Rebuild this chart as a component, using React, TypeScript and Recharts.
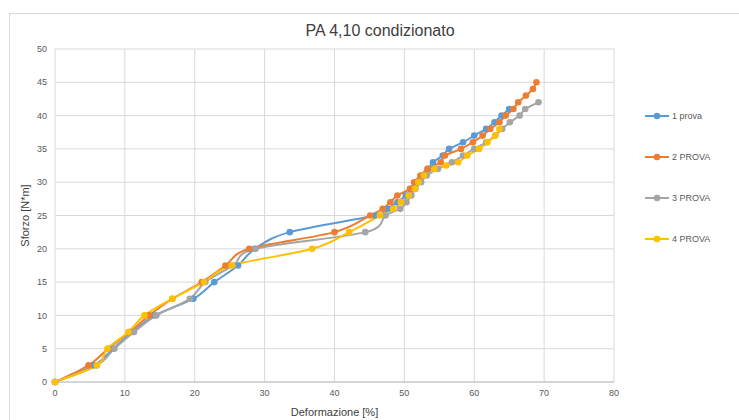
import React from 'react';
import { LineChart, Line, XAxis, YAxis, CartesianGrid } from 'recharts';

// tick labels
const xTicks = [0, 10, 20, 30, 40, 50, 60, 70, 80];
const yTicks = [0, 5, 10, 15, 20, 25, 30, 35, 40, 45, 50];

// 1 prova
const prova1X = [0, 5.6, 8.3, 11.1, 14.3, 19.8, 22.8, 26.2, 28.6, 33.6, 45.8, 47.6, 49, 50.2, 51, 51.7, 52.7, 53.4, 54.1, 55.5, 56.4, 58.4, 60, 61.7, 62.9, 63.9, 65];
const prova1Y = [0, 2.5, 5, 7.5, 10, 12.5, 15, 17.5, 20, 22.5, 25, 26, 27, 28, 29, 30, 31, 32, 33, 34, 35, 36, 37, 38, 39, 40, 41];

// 2 PROVA
const prova2X = [0, 4.8, 7.6, 10.7, 13.5, 16.8, 21, 24.4, 27.8, 40, 45.1, 46.9, 48, 49, 50.8, 51.4, 52.3, 53.3, 55.2, 55.8, 58.1, 59.8, 61.2, 62.3, 63.6, 64.5, 65.6, 66.3, 67.4, 68.4, 68.9];
const prova2Y = [0, 2.5, 5, 7.5, 10, 12.5, 15, 17.5, 20, 22.5, 25, 26, 27, 28, 29, 30, 31, 32, 33, 34, 35, 36, 37, 38, 39, 40, 41, 42, 43, 44, 45];

// 3 PROVA
const prova3X = [0, 6, 8.5, 11.3, 14.5, 19.3, 21.5, 25.5, 28.7, 44.4, 47.3, 49.4, 50.3, 51, 51.6, 52.4, 53.2, 54.8, 56.8, 58.4, 60, 61.7, 63, 64, 65.1, 66.5, 67.3, 69.2];
const prova3Y = [0, 2.5, 5, 7.5, 10, 12.5, 15, 17.5, 20, 22.5, 25, 26, 27, 28, 29, 30, 31, 32, 33, 34, 35, 36, 37, 38, 39, 40, 41, 42];

// 4 PROVA
const prova4X = [0, 6, 7.5, 10.5, 12.8, 16.8, 21.3, 25.3, 36.8, 42.1, 46.5, 48.4, 49.5, 50.6, 51.5, 52, 52.8, 54.3, 56, 57.7, 59, 60.7, 61.9, 63, 63.6];
const prova4Y = [0, 2.5, 5, 7.5, 10, 12.5, 15, 17.5, 20, 22.5, 25, 26, 27, 28, 29, 30, 31, 32, 32.5, 33, 34, 35, 36, 37, 38];

const toPoints = (xs: number[], ys: number[]) => xs.map((x, i) => ({ x, y: ys[i] }));

const series = [
  { name: '1 prova', color: '#5B9BD5', data: toPoints(prova1X, prova1Y) },
  { name: '2 PROVA', color: '#ED7D31', data: toPoints(prova2X, prova2Y) },
  { name: '3 PROVA', color: '#A5A5A5', data: toPoints(prova3X, prova3Y) },
  { name: '4 PROVA', color: '#FFC000', data: toPoints(prova4X, prova4Y) },
];

const font = '"Liberation Sans", Arial, sans-serif';

// Excel-like smoothed line (Catmull-Rom through the points)
function smoothCurve(context: any) {
  let pts: number[][] = [];
  return {
    areaStart() {},
    areaEnd() {},
    lineStart() { pts = []; },
    point(x: number, y: number) { pts.push([+x, +y]); },
    lineEnd() {
      if (!pts.length) return;
      context.moveTo(pts[0][0], pts[0][1]);
      const t = 1 / 6;
      for (let i = 0; i < pts.length - 1; i++) {
        const p0 = pts[i - 1] || pts[i];
        const p1 = pts[i];
        const p2 = pts[i + 1];
        const p3 = pts[i + 2] || p2;
        context.bezierCurveTo(
          p1[0] + (p2[0] - p0[0]) * t, p1[1] + (p2[1] - p0[1]) * t,
          p2[0] - (p3[0] - p1[0]) * t, p2[1] - (p3[1] - p1[1]) * t,
          p2[0], p2[1]
        );
      }
    },
  };
}

const LegendBox = () => (
  <div style={{ position: 'absolute', left: 645, top: 95, fontFamily: font, fontSize: 9, color: '#595959' }}>
    {series.map(s => (
      <div key={s.name} style={{ display: 'flex', alignItems: 'center', height: 41 }}>
        <svg width={24} height={10} style={{ marginRight: 3 }}>
          <line x1={0} y1={5} x2={24} y2={5} stroke={s.color} strokeWidth={2} />
          <circle cx={12} cy={5} r={3.3} fill={s.color} />
        </svg>
        <span>{s.name}</span>
      </div>
    ))}
  </div>
);

export default function App() {
  return (
    <div style={{ position: 'absolute', left: 0, top: 0, width: 739, height: 420, background: '#fff', fontFamily: font }}>
      <div style={{ position: 'absolute', left: 9, top: 13, right: -2, bottom: -2, border: '1px solid #d9d9d9' }} />
      <div style={{ position: 'absolute', left: 21, width: 718, top: 22, textAlign: 'center', fontSize: 16, color: '#404040' }}>
        PA 4,10 condizionato
      </div>
      <div style={{ position: 'absolute', left: 0, top: 0 }}>
        <LineChart width={739} height={420} margin={{ top: 49, right: 125, bottom: 18, left: 20 }}>
          <CartesianGrid stroke="#d9d9d9" />
          <XAxis
            type="number"
            dataKey="x"
            domain={[0, 80]}
            ticks={xTicks}
            tickLine={false}
            axisLine={{ stroke: '#bfbfbf' }}
            tick={{ fontSize: 9, fill: '#595959' }}
            height={20}
            label={{ value: 'Deformazione [%]', position: 'insideBottom', offset: -14, fontSize: 11, fill: '#404040' }}
          />
          <YAxis
            type="number"
            dataKey="y"
            domain={[0, 50]}
            ticks={yTicks}
            tickLine={false}
            axisLine={false}
            tick={{ fontSize: 9, fill: '#595959' }}
            width={35}
            label={{ value: 'Sforzo [N*m]', angle: -90, position: 'insideLeft', offset: 5, fontSize: 11, fill: '#404040', style: { textAnchor: 'middle' } }}
          />
          {series.map(s => (
            <Line
              key={s.name}
              data={s.data}
              dataKey="y"
              name={s.name}
              type={smoothCurve as any}
              stroke={s.color}
              strokeWidth={2}
              dot={{ r: 3.3, fill: s.color, stroke: s.color, strokeWidth: 0 }}
              isAnimationActive={false}
            />
          ))}
        </LineChart>
      </div>
      <LegendBox />
    </div>
  );
}
